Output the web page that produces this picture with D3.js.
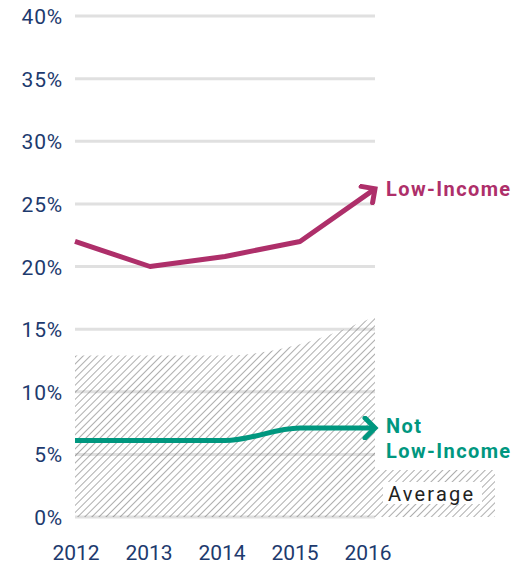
<!DOCTYPE html>
<html><head><meta charset="utf-8">
<script src="https://cdn.jsdelivr.net/npm/d3@7"></script>
<style>body{margin:0;background:#fff}svg{display:block}</style>
</head><body>
<svg id="c" width="527" height="568"></svg>
<script>
const years = ["2012","2013","2014","2015","2016"];
const lowIncome = [22, 20, 20.8, 22, 26.2];
const notLowIncome = [6.1, 6.1, 6.1, 7.1, 7.1];
const average = [12.9, 12.9, 12.9, 13.8, 16];
const yTicks = [0,5,10,15,20,25,30,35,40];

const svg = d3.select("#c");
const font = "Roboto, 'DejaVu Sans', sans-serif";
const navy = "#1d3a6e", magenta = "#ae2f6a", green = "#00977f";
const x = d3.scalePoint().domain(years).range([75, 375]);
const y = d3.scaleLinear().domain([0,40]).range([517, 16]);

const defs = svg.append("defs");
const pat = defs.append("pattern").attr("id","hatch").attr("patternUnits","userSpaceOnUse")
  .attr("width",5).attr("height",5).attr("patternTransform","rotate(45)");
pat.append("line").attr("x1",0).attr("y1",0).attr("x2",0).attr("y2",5)
  .attr("stroke","#6a6a6a").attr("stroke-width",1.1);

function marker(id,color){
  defs.append("marker").attr("id",id).attr("viewBox","-14 -12 18 24")
    .attr("markerWidth",18).attr("markerHeight",24).attr("refX",0).attr("refY",0)
    .attr("markerUnits","userSpaceOnUse").attr("orient","auto")
    .append("path").attr("d","M-10,-10 L0,0 L-10,10").attr("fill","none")
    .attr("stroke",color).attr("stroke-width",5).attr("stroke-linecap","round").attr("stroke-linejoin","miter");
}
marker("mLow",magenta); marker("mNot",green);

// gridlines
svg.append("g").selectAll("line").data(yTicks).join("line")
  .attr("x1",75).attr("x2",375).attr("y1",d=>y(d)).attr("y2",d=>y(d))
  .attr("stroke","#e0e0e0").attr("stroke-width",3);

// average area
const area = d3.area().x((d,i)=>x(years[i])).y0(y(0)).y1(d=>y(d)).curve(d3.curveMonotoneX);
svg.append("path").datum(average).attr("d",area).attr("fill","url(#hatch)");

// y axis labels
svg.append("g").selectAll("text").data(yTicks).join("text")
  .attr("x",63).attr("y",d=>y(d)+8).attr("text-anchor","end")
  .attr("font-family",font).attr("font-size",21).attr("letter-spacing",0.8).attr("fill",navy).text(d=>d+"%");

// x axis labels
svg.append("g").selectAll("text").data(years).join("text")
  .attr("x",(d,i)=>76+i*73).attr("y",560).attr("text-anchor","middle")
  .attr("font-family",font).attr("font-size",21).attr("fill",navy).text(d=>d);

// lines
const lineLow = d3.line().x((d,i)=>x(years[i])).y(d=>y(d));
const lineNot = d3.line().x((d,i)=>x(years[i])).y(d=>y(d)).curve(d3.curveMonotoneX);
svg.append("path").datum(lowIncome).attr("d",lineLow).attr("fill","none")
  .attr("stroke",magenta).attr("stroke-width",5).attr("stroke-linejoin","round").attr("marker-end","url(#mLow)");
svg.append("path").datum(notLowIncome).attr("d",lineNot).attr("fill","none")
  .attr("stroke",green).attr("stroke-width",5).attr("marker-end","url(#mNot)");

// labels
const lab = (t,yy,c)=>svg.append("text").attr("x",386).attr("y",yy).attr("font-family",font)
  .attr("font-weight","bold").attr("font-size",20).attr("letter-spacing",1.4).attr("fill",c).text(t);
lab("Low-Income",196,magenta);
lab("Not",433,green);
lab("Low-Income",458,green);

// average legend
svg.append("rect").attr("x",375).attr("y",470).attr("width",120).attr("height",47).attr("fill","url(#hatch)");
svg.append("rect").attr("x",383).attr("y",482).attr("width",99).attr("height",22).attr("fill","#fff");
svg.append("text").attr("x",388).attr("y",501).attr("font-family",font).attr("font-size",20)
  .attr("letter-spacing",2.2).attr("fill","#222").text("Average");
</script>
</body></html>
